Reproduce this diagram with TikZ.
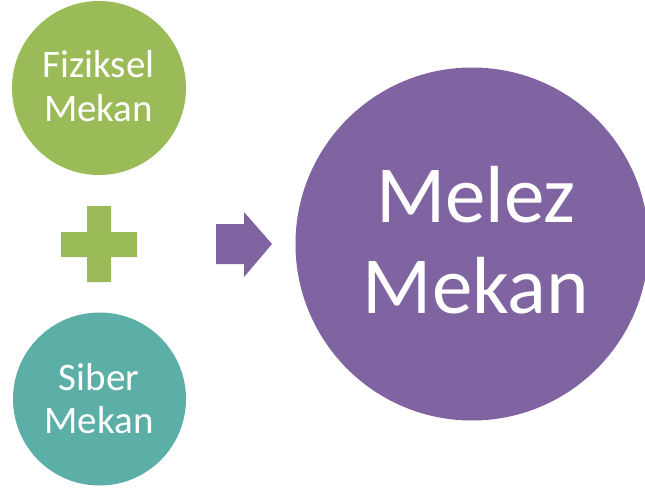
\documentclass[tikz,border=0pt]{standalone}
\usepackage{fontspec}
\setmainfont{Carlito}
\definecolor{cgreen}{HTML}{9BBB59}
\definecolor{cteal}{HTML}{5CAFA6}
\definecolor{cpurple}{HTML}{8064A2}
\tikzset{
  blob/.style={circle, inner sep=0pt, minimum size=#1},
  smalltxt/.style={text=white, anchor=base, inner sep=0pt, font=\fontsize{39}{44}\selectfont},
  bigtxt/.style={text=white, anchor=base, inner sep=0pt, font=\fontsize{81}{91}\selectfont}
}
\begin{document}
\begin{tikzpicture}[x=1pt,y=-1pt]
\useasboundingbox (0,0) rectangle (645,490);
\clip (0,0) rectangle (645,490);
\fill[white] (0,0) rectangle (645,490);
% circles
\node[blob=174pt, fill=cgreen] (fiz) at (99,88) {};
\node[blob=173pt, fill=cteal] (sib) at (99.5,399) {};
\node[blob=353pt, fill=cpurple] (mel) at (472,244) {};
% texts
\node[smalltxt] (fiz1) at (98.5,77) {Fiziksel};
\node[smalltxt] (fiz2) at (98.5,121) {Mekan};
\node[smalltxt] (sib1) at (99,390) {Siber};
\node[smalltxt] (sib2) at (99,433) {Mekan};
\node[bigtxt] (mel1) at (476,222) {Melez};
\node[bigtxt] (mel2) at (476,313) {Mekan};
% plus sign
\fill[cgreen] (87,206) -- (111,206) -- (111,232) -- (137,232) -- (137,257) -- (111,257)
  -- (111,282) -- (87,282) -- (87,257) -- (61,257) -- (61,232) -- (87,232) -- cycle;
% arrow
\fill[cpurple] (216,224) -- (244,224) -- (244,212) -- (272,244) -- (244,277) -- (244,264)
  -- (216,264) -- cycle;
\end{tikzpicture}
\end{document}
